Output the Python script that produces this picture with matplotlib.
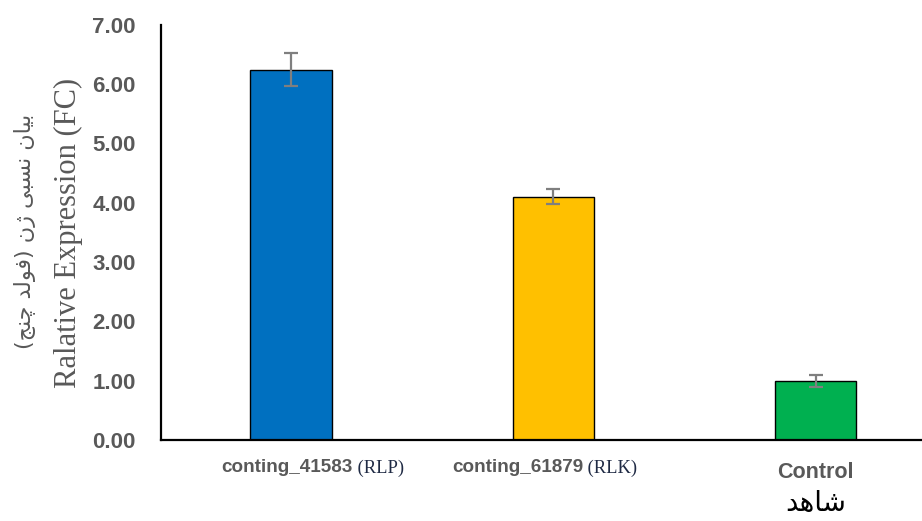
import matplotlib.pyplot as plt
from matplotlib import transforms

# data
genes = ["conting_41583", "conting_61879", "Control"]
suffixes = ["(RLP)", "(RLK)", ""]
fold_change = [6.24, 4.10, 1.00]
errors = [0.28, 0.13, 0.10]
bar_colors = ["#0070C0", "#FFC000", "#00B050"]
y_ticks = [0, 1, 2, 3, 4, 5, 6, 7]

# Persian text in visual order with presentation forms (matplotlib has no shaping)
ylabel_fa = ("(\uFE9E\uFEE8\uFB7C \uFEAA\uFEDF\uFEEE\uFED3) \uFEE5\u0698 "
             "\uFEF0\uFE92\uFEB4\uFEE7 \uFEE5\uFE8E\uFEF4\uFE91")
control_fa = "\uFEAA\uFEEB\uFE8E\uFEB7"
ylabel_en = "Ralative Expression (FC)"

GREY = "#595959"
# horizontal shift (px) of the split point between the bold name and the suffix
label_split = [62, 30, 0]

fig = plt.figure(figsize=(9.22, 5.21), dpi=100)
ax = fig.add_axes([0.1746, 0.1555, 0.8254, 0.797])

x = list(range(len(genes)))
ax.bar(x, fold_change, width=0.31, color=bar_colors, edgecolor="black",
       linewidth=1.0, zorder=2)
ax.errorbar(x, fold_change, yerr=errors, fmt="none", ecolor="#7f7f7f",
            elinewidth=1.6, capsize=5, capthick=1.6, zorder=3)

ax.set_xlim(-0.495, 2.405)
ax.set_ylim(0, 7)
ax.set_yticks(y_ticks)
ax.set_yticklabels([f"{v:.2f}" for v in y_ticks], fontsize=16,
                   fontweight="bold", color=GREY, family="Liberation Sans")
ax.tick_params(axis="y", length=0, pad=18)
ax.set_xticks([])
for s in ["top", "right"]:
    ax.spines[s].set_visible(False)
for s in ["left", "bottom"]:
    ax.spines[s].set_linewidth(1.6)

trans = transforms.blended_transform_factory(ax.transData, fig.transFigure)
for xi, name, suf, shift in zip(x, genes, suffixes, label_split):
    if suf:
        t = transforms.offset_copy(trans, fig=fig, x=shift, y=0, units="dots")
        ax.text(xi, 1 - 468 / 521, name, transform=t, ha="right", va="center",
                fontsize=13.6, fontweight="bold", color=GREY,
                family="Liberation Sans")
        ax.text(xi, 1 - 468 / 521, " " + suf, transform=t, ha="left",
                va="center", fontsize=13.3, color="#1F2A44",
                family="Liberation Serif")
    else:
        ax.text(xi, 1 - 473 / 521, name, transform=trans, ha="center",
                va="center", fontsize=15.5, fontweight="bold", color=GREY,
                family="Liberation Sans")
        ax.text(xi, 1 - 503 / 521, control_fa, transform=trans, ha="center",
                va="center", fontsize=20, color="black", family="DejaVu Sans")

fig.text(68 / 922, 1 - 233 / 521, ylabel_en, rotation=90, ha="center",
         va="center", fontsize=22, color=GREY, family="Liberation Serif")
fig.text(25 / 922, 1 - 231 / 521, ylabel_fa, rotation=90, ha="center",
         va="center", fontsize=16, color=GREY, family="DejaVu Sans")

fig.savefig("out.png", dpi=100)
